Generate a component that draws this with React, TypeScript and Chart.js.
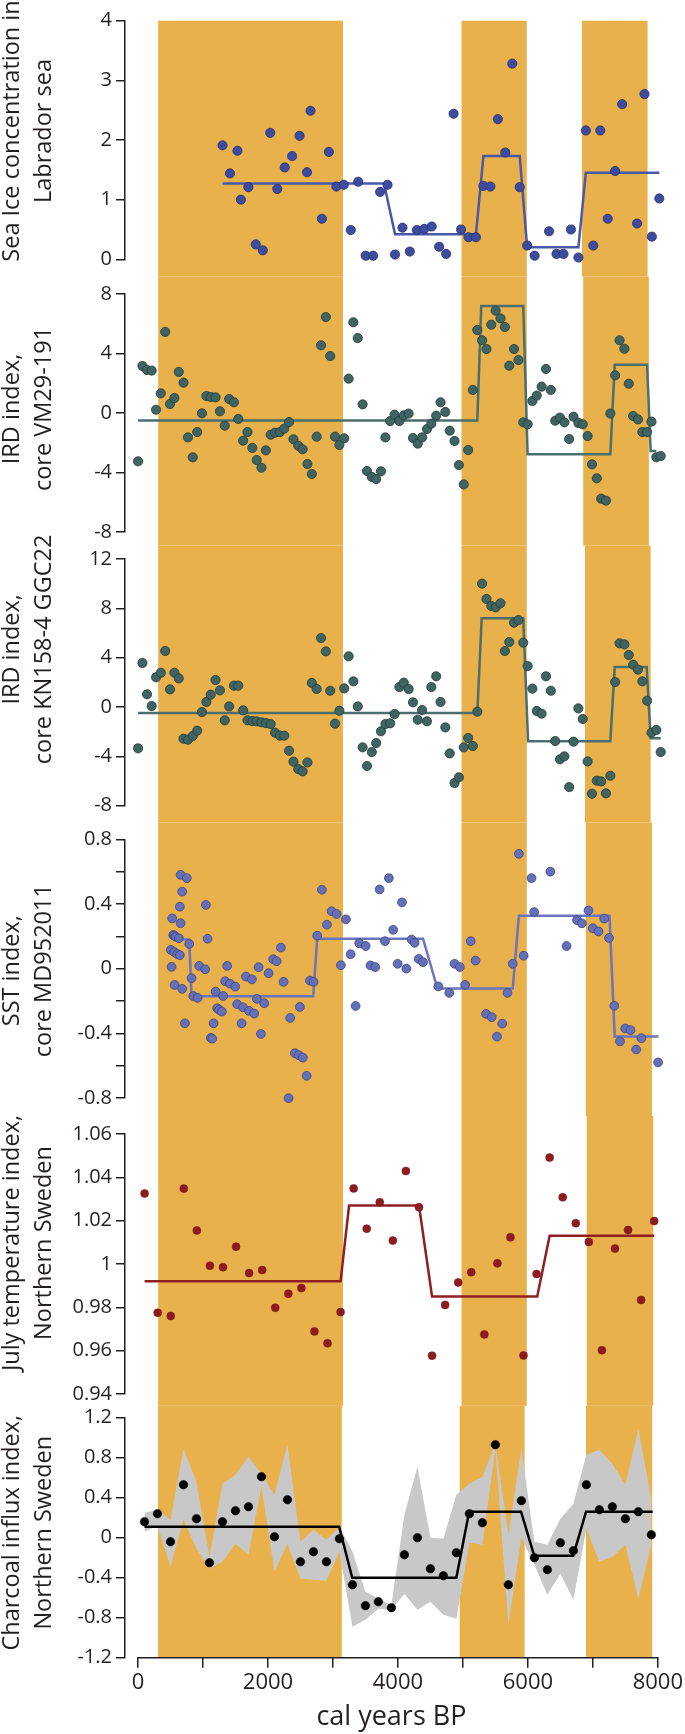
import { useEffect, useRef } from 'react';
import { Chart, registerables } from 'chart.js';

Chart.register(...registerables);

// ---------------- data ----------------
// Panel 1: sea ice concentration, Labrador sea
const seaIceYears = [1293,1407,1521,1574,1688,1802,1909,2023,2131,2245,2358,2472,2586,2640,2814,2921,3035,3149,3256,3370,3484,3598,3705,3819,3933,4047,4160,4267,4381,4495,4609,4716,4830,4944,5058,5172,5286,5393,5507,5621,5728,5842,5956,6070,6291,6405,6512,6626,6740,6854,6968,7075,7189,7303,7410,7638,7752,7865,7979];
const seaIceValues = [1.91,1.44,1.82,1.00,1.21,0.25,0.15,2.12,1.18,1.54,1.73,2.07,1.46,2.49,0.68,1.80,1.22,1.25,0.49,1.30,0.06,0.06,1.13,1.25,0.08,0.53,0.13,0.49,0.51,0.55,0.21,0.09,2.44,0.50,0.37,0.37,1.23,1.22,2.35,1.79,3.28,1.21,0.23,0.06,0.47,0.09,0.09,0.50,0.03,2.16,0.23,2.16,0.68,1.48,2.60,0.60,2.77,0.38,1.02];
const seaIceStepYears = [1293,3765,3933,5172,5286,5842,5956,6740,6854,7979];
const seaIceStepValues = [1.27,1.27,0.42,0.42,1.73,1.73,0.20,0.20,1.45,1.45];
const seaIceTicks = [4,3,2,1,0];
const seaIceTickLabels = ['4','3','2','1','0'];

// Panels 2 & 3: IRD index (shared sample ages)
const irdYears = [0,67,137,208,275,348,415,489,556,623,696,764,837,905,978,1045,1112,1186,1253,1327,1394,1468,1534,1608,1675,1749,1816,1889,1956,2030,2097,2171,2238,2311,2379,2452,2519,2593,2660,2734,2801,2874,2941,3015,3082,3156,3223,3296,3363,3437,3504,3578,3645,3718,3786,3859,3926,4000,4067,4141,4208,4281,4348,4422,4489,4563,4630,4703,4771,4844,4911,4985,5052,5125,5193,5266,5333,5407,5474,5548,5615,5682,5755,5822,5896,5963,6036,6103,6177,6244,6318,6385,6458,6526,6599,6666,6740,6807,6881,6948,7022,7089,7162,7229,7303,7370,7444,7511,7578,7652,7719,7792,7859,7933,8000];
const irdVmValues = [-3.25,3.16,2.89,2.85,0.22,1.32,5.45,0.61,1.01,2.76,2.04,-1.64,-2.98,-1.28,-0.02,1.14,1.08,1.05,0.11,-0.85,0.94,0.72,-0.40,-1.86,-1.28,-2.35,-3.16,-3.68,-2.51,-1.46,-1.32,-1.28,-1.05,-0.61,-1.77,-2.20,-2.44,-3.43,-4.10,-1.59,4.55,6.45,3.83,-1.59,-2.15,-1.70,2.31,6.10,5.04,0.58,-3.90,-4.30,-4.44,-3.92,-1.64,-0.54,-0.11,-0.54,-0.16,-0.04,-1.68,-2.06,-1.64,-1.08,-0.72,-0.18,0.72,0.07,-1.19,-1.88,-3.50,-4.80,-2.49,1.55,5.58,4.89,4.30,5.94,6.88,6.36,5.78,3.18,4.30,3.56,-0.63,-0.76,0.81,1.17,1.77,2.96,1.55,-0.52,-0.31,-0.63,-1.75,-0.25,-0.67,-0.76,-1.55,-3.45,-4.39,-5.76,-5.89,-0.04,2.53,4.89,4.32,1.97,-0.20,-0.43,-1.28,-1.28,-0.58,-2.98,-2.89];
const irdVmStepYears = [0,5193,5253,5896,5963,7229,7296,7792,7846,7933];
const irdVmStepValues = [-0.5,-0.5,7.2,7.2,-2.77,-2.77,3.25,3.25,-2.55,-2.55];
const irdVmTicks = [8,4,0,-4,-8];
const irdVmTickLabels = ['8','4','0','-4','-8'];

const irdKnValues = [-3.35,3.57,1.03,0.08,2.41,2.78,4.54,1.43,2.78,2.32,-2.57,-2.65,-2.35,-1.92,-0.41,0.41,1.00,2.19,1.35,-1.08,0.05,1.73,1.73,-0.27,-1.08,-1.14,-1.16,-1.24,-1.30,-1.38,-2.08,-2.32,-2.32,-3.54,-4.43,-5.03,-5.22,-4.49,1.95,1.46,5.59,4.51,1.32,-1.35,-0.30,1.51,4.11,2.08,0.05,-3.27,-4.78,-3.65,-2.92,-1.97,-1.38,-1.32,-0.57,1.62,1.97,1.46,0.38,-1.03,-0.24,-1.16,1.62,2.49,0.41,-1.65,-3.76,-6.16,-5.70,-3.27,-2.51,-3.16,-0.38,10.0,8.76,8.19,8.08,8.41,4.54,5.27,6.84,7.05,5.22,3.32,1.49,-0.32,-0.54,2.49,1.32,-2.76,-4.24,-4.00,-6.49,-2.81,-0.11,-0.97,-4.41,-7.03,-5.97,-6.03,-7.00,-5.57,2.03,5.16,5.08,4.22,3.43,3.03,2.08,0.51,-2.08,-1.86,-3.65];
const irdKnStepYears = [0,5193,5260,5896,5970,7229,7296,7785,7846,8000];
const irdKnStepValues = [-0.49,-0.49,7.2,7.2,-2.78,-2.78,3.24,3.24,-2.54,-2.54];
const irdKnTicks = [12,8,4,0,-4,-8];
const irdKnTickLabels = ['12','8','4','0','-4','-8'];

// Panel 4: SST index, core MD952011
const sstYears = [502,513,522,538,553,555,559,574,599,625,640,640,651,652,675,675,717,746,783,819,844,911,936,1027,1038,1064,1115,1135,1156,1187,1211,1242,1283,1303,1334,1364,1406,1487,1517,1585,1605,1651,1697,1743,1778,1819,1845,1880,1931,1998,2069,2121,2186,2228,2304,2329,2401,2458,2477,2523,2580,2631,2687,2742,2814,2891,2963,3039,3105,3182,3254,3330,3385,3484,3558,3631,3698,3779,3839,3906,3973,4040,4107,4188,4234,4295,4362,4596,4764,4844,4925,5005,5092,5166,5327,5414,5494,5574,5655,5735,5829,5903,6023,6063,6311,6559,6720,6794,6894,6961,7048,7135,7209,7290,7377,7457,7538,7625,7705,7960];
const sstValues = [0.116,0.011,0.311,0.208,0.103,0.205,-0.101,0.198,0.091,0.188,0.383,0.083,0.281,0.58,0.476,-0.125,-0.338,0.56,0.153,-0.059,-0.169,-0.181,0.017,-0.004,0.394,0.185,-0.428,-0.433,-0.338,-0.142,-0.245,-0.255,-0.266,-0.169,-0.078,0.017,-0.093,-0.111,-0.220,-0.338,-0.239,-0.049,-0.261,-0.066,-0.278,-0.187,0.009,-0.404,-0.214,-0.028,0.058,0.046,0.130,-0.082,-0.801,-0.305,-0.523,-0.535,-0.237,-0.550,-0.663,-0.074,-0.082,0.204,0.488,0.272,0.355,0.338,0.021,0.305,0.089,-0.231,0.157,0.14,0.02,0.01,0.49,0.17,0.56,0.24,0.03,0.41,0.00,0.18,0.16,0.06,0.04,-0.11,-0.15,0.03,0.01,-0.10,0.17,0.05,-0.28,-0.30,-0.42,-0.34,-0.15,0.03,0.71,0.08,0.56,0.35,0.60,0.14,0.30,0.28,0.36,0.25,0.23,0.31,0.19,-0.23,-0.45,-0.37,-0.38,-0.50,-0.43,-0.58];
const sstStepYears = [533,783,819,2681,2742,4362,4583,5735,5829,7216,7296,7966];
const sstStepValues = [0.18,0.18,-0.17,-0.17,0.185,0.185,-0.123,-0.123,0.327,0.327,-0.42,-0.42];
const sstTicks = [0.8,0.6,0.4,0.2,0,-0.2,-0.4,-0.6,-0.8];
const sstTickLabels = ['0.8','','0.4','','0','','-0.4','','-0.8'];

// Panels 5 & 6: Northern Sweden (200-yr samples)
const swedenYears = [100,300,500,700,900,1100,1300,1500,1700,1900,2100,2300,2500,2700,2900,3100,3300,3500,3700,3900,4100,4300,4500,4700,4900,5100,5300,5500,5700,5900,6100,6300,6500,6700,6900,7100,7300,7500,7700,7900];
const julyValues = [1.0325,0.9775,0.976,1.0348,1.0155,0.9992,0.9985,1.008,0.9958,0.9972,0.9798,0.9863,0.9889,0.9689,0.9634,0.9778,1.0349,1.0163,1.0285,1.0108,1.0429,1.0262,0.9577,0.9811,0.9915,0.9962,0.9675,1.0003,1.0123,0.9578,0.9954,1.0491,1.0308,1.0188,1.0102,0.9602,1.0071,1.0157,0.9834,1.0198];
const julyStepYears = [100,3100,3230,4300,4500,6110,6300,7900];
const julyStepValues = [0.992,0.992,1.027,1.027,0.985,0.985,1.013,1.013];
const julyTicks = [1.06,1.04,1.02,1,0.98,0.96,0.94];
const julyTickLabels = ['1.06','1.04','1.02','1','0.98','0.96','0.94'];

const charcoalValues = [0.16,0.24,-0.04,0.53,0.19,-0.25,0.16,0.27,0.31,0.61,0.01,0.38,-0.24,-0.14,-0.24,-0.01,-0.47,-0.68,-0.64,-0.70,-0.17,0.00,-0.31,-0.38,-0.15,0.24,0.15,0.93,-0.47,0.37,-0.20,-0.32,-0.05,-0.13,0.53,0.28,0.31,0.19,0.26,0.03];
const charcoalUpper = [0.25,0.28,0.18,0.89,0.56,-0.19,0.54,0.63,0.81,0.64,0.43,0.93,-0.04,0.08,-0.02,0.11,-0.14,-0.54,-0.61,-0.67,0.23,0.71,0.00,-0.01,0.43,0.54,0.61,0.94,0.03,0.89,-0.04,-0.07,0.19,0.34,0.83,0.88,0.74,0.53,1.09,0.39];
const charcoalLower = [0.06,0.12,-0.29,0.18,-0.11,-0.31,-0.24,-0.06,-0.17,0.51,-0.34,-0.06,-0.41,-0.42,-0.43,-0.14,-0.89,-0.82,-0.71,-0.72,-0.56,-0.72,-0.64,-0.77,-0.81,-0.05,-0.07,0.89,-0.87,0.0,-0.27,-0.57,-0.36,-0.62,0.09,-0.24,-0.19,-0.07,-0.61,-0.07];
const charcoalStepYears = [100,3095,3297,4899,5096,5895,6097,6698,6895,7920];
const charcoalStepValues = [0.11,0.11,-0.40,-0.40,0.26,0.26,-0.18,-0.18,0.26,0.26];
const charcoalTicks = [1.2,0.8,0.4,0,-0.4,-0.8,-1.2];
const charcoalTickLabels = ['1.2','0.8','0.4','0','-0.4','-0.8','-1.2'];

// Cold periods (shaded), cal years BP; third band drifts slightly per panel
const coldBand1 = [308, 3136];
const coldBand2 = [4951, 5950];
const coldBand3Starts = [6794, 6814, 6841, 6854, 6868, 6894];
const coldBand3Ends = [7799, 7819, 7846, 7866, 7886, 7913];

// x axis
const xTicks = [0,1000,2000,3000,4000,5000,6000,7000,8000];
const xTickLabels = ['0','','2000','','4000','','6000','','8000'];

// ---------------- layout & style ----------------
const W = 685;
const H = 1734;
const AXIS_X = 125;
const PLOT_RIGHT = 660.7;
const X_MIN = -200;
const X_MAX = 8000;
const FONT = "'Open Sans', sans-serif";
const INK = '#231f20';
const BAND = '#E8B14C';
const GREY = '#C8C8C8';
const TITLE_SIZE = 23.5;
const TITLE_X = [12, 44];

const LAYOUT = [
  { top: 20.7, bottom: 259.3 },
  { top: 294, bottom: 532 },
  { top: 559, bottom: 805.7 },
  { top: 839.3, bottom: 1098 },
  { top: 1134, bottom: 1394 },
  { top: 1417.7, bottom: 1657.7 },
];

const zip = (xs: number[], ys: number[]) => xs.map((x, i) => ({ x, y: ys[i] }));

const PANELS = [
  {
    title: ['Sea Ice concentration in', 'Labrador sea'], shift: -9,
    years: seaIceYears, values: seaIceValues, stepYears: seaIceStepYears, stepValues: seaIceStepValues,
    ticks: seaIceTicks, labels: seaIceTickLabels,
    dot: '#3D4C9F', edge: '#27306E', edgeW: 0.8, r: 4.6, line: '#4A58A8',
  },
  {
    title: ['IRD index,', 'core VM29-191'], shift: -4,
    years: irdYears, values: irdVmValues, stepYears: irdVmStepYears, stepValues: irdVmStepValues,
    ticks: irdVmTicks, labels: irdVmTickLabels,
    dot: '#3F6462', edge: '#223B3A', edgeW: 0.8, r: 4.6, line: '#4B6F6E',
  },
  {
    title: ['IRD index,', 'core KN158-4 GGC22'], shift: -33,
    years: irdYears, values: irdKnValues, stepYears: irdKnStepYears, stepValues: irdKnStepValues,
    ticks: irdKnTicks, labels: irdKnTickLabels,
    dot: '#3F6462', edge: '#223B3A', edgeW: 0.8, r: 4.6, line: '#4B6F6E',
  },
  {
    title: ['SST index,', 'core MD952011'], shift: 2,
    years: sstYears, values: sstValues, stepYears: sstStepYears, stepValues: sstStepValues,
    ticks: sstTicks, labels: sstTickLabels,
    dot: '#6570B8', edge: '#3A4382', edgeW: 0.8, r: 4.4, line: '#6B75BC',
  },
  {
    title: ['July temperature index,', 'Northern Sweden'], shift: -21,
    years: swedenYears, values: julyValues, stepYears: julyStepYears, stepValues: julyStepValues,
    ticks: julyTicks, labels: julyTickLabels,
    dot: '#8C1C1F', edge: '#7A1519', edgeW: 0.5, r: 4.0, line: '#8E2024',
  },
  {
    title: ['Charcoal influx index,', 'Northern Sweden'], shift: -5,
    years: swedenYears, values: charcoalValues, stepYears: charcoalStepYears, stepValues: charcoalStepValues,
    ticks: charcoalTicks, labels: charcoalTickLabels,
    dot: '#000000', edge: '#000000', edgeW: 0.5, r: 4.3, line: '#000000',
    upper: charcoalUpper, lower: charcoalLower,
  },
];

function buildConfig(p: any, idx: number): any {
  const isLast = idx === PANELS.length - 1;
  const lay = LAYOUT[idx];
  const segTop = idx === 0 ? lay.top : (LAYOUT[idx - 1].bottom + lay.top) / 2;
  const segBottom = isLast ? lay.bottom : (lay.bottom + LAYOUT[idx + 1].top) / 2;
  const bands = [
    coldBand1,
    coldBand2,
    [coldBand3Starts[idx], coldBand3Ends[idx]],
  ];

  const datasets: any[] = [
    {
      data: zip(p.years, p.values),
      showLine: false,
      pointRadius: p.r,
      pointBackgroundColor: p.dot,
      pointBorderColor: p.edge,
      pointBorderWidth: p.edgeW,
      clip: false,
      order: 0,
    },
    {
      data: zip(p.stepYears, p.stepValues),
      borderColor: p.line,
      borderWidth: 2.5,
      pointRadius: 0,
      fill: false,
      tension: 0,
      clip: false,
      order: 1,
    },
  ];
  if (p.upper) {
    datasets.push({
      data: zip(p.years, p.upper),
      borderColor: 'rgba(0,0,0,0)',
      borderWidth: 0,
      pointRadius: 0,
      backgroundColor: GREY,
      fill: '+1',
      tension: 0,
      order: 2,
    });
    datasets.push({
      data: zip(p.years, p.lower),
      borderColor: 'rgba(0,0,0,0)',
      borderWidth: 0,
      pointRadius: 0,
      fill: false,
      tension: 0,
      order: 3,
    });
  }

  const bandPlugin = {
    id: 'coldBands',
    beforeDraw(chart: any) {
      const xs = chart.scales.x;
      const ctx = chart.ctx;
      ctx.save();
      ctx.fillStyle = BAND;
      bands.forEach(([a, b]) => {
        const x0 = xs.getPixelForValue(a);
        const x1 = xs.getPixelForValue(b);
        ctx.fillRect(x0, segTop, x1 - x0, segBottom - segTop);
      });
      ctx.restore();
    },
  };

  const titlePlugin = {
    id: 'yTitle',
    afterDraw(chart: any) {
      const { ctx, chartArea } = chart;
      const cy = (chartArea.top + chartArea.bottom) / 2 + p.shift;
      ctx.save();
      ctx.fillStyle = INK;
      ctx.font = `${TITLE_SIZE}px ${FONT}`;
      ctx.textAlign = 'center';
      ctx.textBaseline = 'middle';
      p.title.forEach((line: string, i: number) => {
        ctx.save();
        ctx.translate(TITLE_X[i], cy);
        ctx.rotate(-Math.PI / 2);
        ctx.fillText(line, 0, 0);
        ctx.restore();
      });
      ctx.restore();
    },
  };

  const xLinePlugin = {
    id: 'xLine',
    afterDraw(chart: any) {
      if (!isLast) return;
      const xs = chart.scales.x;
      const ctx = chart.ctx;
      const y = chart.chartArea.bottom;
      ctx.save();
      ctx.strokeStyle = INK;
      ctx.lineWidth = 1.5;
      ctx.beginPath();
      ctx.moveTo(xs.getPixelForValue(xTicks[0]) - 0.75, y);
      ctx.lineTo(xs.getPixelForValue(xTicks[xTicks.length - 1]) + 0.75, y);
      ctx.stroke();
      ctx.restore();
    },
  };

  const xScale: any = {
    type: 'linear',
    min: X_MIN,
    max: X_MAX,
    display: isLast,
    afterBuildTicks: (s: any) => { s.ticks = xTicks.map((v) => ({ value: v })); },
    ticks: {
      callback: (_v: any, i: number) => xTickLabels[i],
      font: { family: FONT, size: 22 },
      color: INK,
      padding: 2,
      autoSkip: false,
      maxRotation: 0,
    },
    grid: { drawOnChartArea: false, drawTicks: true, tickLength: 10, color: INK, lineWidth: 1.5 },
    border: { display: false },
    title: {
      display: true,
      text: 'cal years BP',
      font: { family: FONT, size: 27 },
      color: INK,
      padding: 0,
    },
  };
  if (isLast) {
    xScale.afterFit = (s: any) => { s.height = H - lay.bottom; };
  }

  return {
    type: 'line',
    data: { datasets },
    plugins: [bandPlugin, titlePlugin, xLinePlugin],
    options: {
      animation: false,
      responsive: false,
      events: [],
      layout: {
        padding: {
          top: lay.top,
          bottom: isLast ? 0 : H - lay.bottom,
          left: 0,
          right: W - PLOT_RIGHT,
        },
      },
      plugins: { legend: { display: false }, tooltip: { enabled: false } },
      scales: {
        x: xScale,
        y: {
          type: 'linear',
          min: p.ticks[p.ticks.length - 1],
          max: p.ticks[0],
          afterBuildTicks: (s: any) => { s.ticks = p.ticks.map((v: number) => ({ value: v })); },
          afterFit: (s: any) => { s.width = AXIS_X; },
          ticks: {
            callback: (_v: any, i: number) => p.labels[i],
            font: { family: FONT, size: 20 },
            color: INK,
            padding: 4,
            autoSkip: false,
          },
          grid: { drawOnChartArea: false, drawTicks: true, tickLength: 9, color: INK, lineWidth: 1.5 },
          border: { display: true, color: INK, width: 1.5 },
        },
      },
    },
  };
}

export default function App() {
  const refs = useRef<(HTMLCanvasElement | null)[]>([]);

  useEffect(() => {
    const charts = PANELS.map((p, i) => new Chart(refs.current[i] as HTMLCanvasElement, buildConfig(p, i)));
    return () => charts.forEach((c) => c.destroy());
  }, []);

  return (
    <div style={{ position: 'absolute', left: 0, top: 0, width: W, height: H, background: '#ffffff', overflow: 'hidden' }}>
      {PANELS.map((_p, i) => (
        <canvas
          key={i}
          ref={(el) => { refs.current[i] = el; }}
          width={W}
          height={H}
          style={{ position: 'absolute', left: 0, top: 0, width: W, height: H }}
        />
      ))}
    </div>
  );
}
